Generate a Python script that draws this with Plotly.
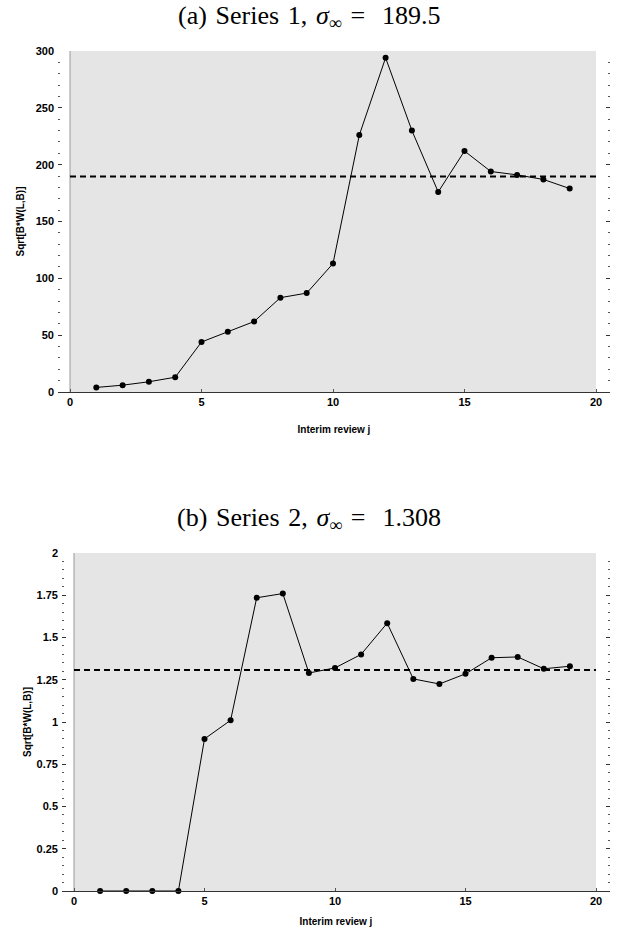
import plotly.graph_objects as go

# ---- data ----
review_j = list(range(1, 20))
series1 = [4, 6, 9, 13, 44, 53, 62, 83, 87, 113, 226, 294, 230, 176, 212, 194, 191, 187, 179]
series2 = [0, 0, 0, 0, 0.90, 1.01, 1.735, 1.76, 1.29, 1.32, 1.40, 1.585, 1.255, 1.225, 1.285, 1.38, 1.385, 1.315, 1.33]
sigma1 = 189.5
sigma2 = 1.308
x_ticks = [0, 5, 10, 15, 20]
y1_ticks = [0, 50, 100, 150, 200, 250, 300]
y2_ticks = [0, 0.25, 0.5, 0.75, 1, 1.25, 1.5, 1.75, 2]
y2_ticklabels = ["0", "0.25", "0.5", "0.75", "1", "1.25", "1.5", "1.75", "2"]
SP = " \u200a"
titles = [f"(a){SP}Series{SP}1,{SP}<i>σ</i><sub>∞</sub>{SP}= \u2009\u2009189.5",
          f"(b){SP}Series{SP}2,{SP}<i>σ</i><sub>∞</sub>{SP}= \u2009\u20091.308"]
ylabel = "Sqrt[B*W(L,B)]"
xlabel = "Interim review j"

W, H = 618, 933
GREY = "#e5e5e5"
SANS = "Liberation Sans, Arial, sans-serif"
SERIF = "Liberation Serif, Times New Roman, serif"

fig = go.Figure()

def add_panel(xa, ya, y, sigma, ymax):
    xref = "x" if xa == "" else "x" + xa
    yref = "y" if ya == "" else "y" + ya
    fig.add_shape(type="rect", x0=0, x1=20, y0=0, y1=ymax, xref=xref, yref=yref,
                  fillcolor=GREY, line=dict(width=0), layer="below")
    fig.add_shape(type="line", x0=0, x1=0, y0=0, y1=ymax, xref=xref, yref=yref,
                  line=dict(color="#9a9a9a", width=1), layer="below")
    fig.add_trace(go.Scatter(x=[0, 20], y=[sigma, sigma], mode="lines",
                             line=dict(color="black", width=2, dash="6px,4px"),
                             xaxis=xref, yaxis=yref, showlegend=False, hoverinfo="skip"))
    fig.add_trace(go.Scatter(x=review_j, y=y, mode="lines+markers",
                             line=dict(color="black", width=1),
                             marker=dict(color="black", size=6),
                             xaxis=xref, yaxis=yref, showlegend=False, cliponaxis=False))

add_panel("", "", series1, sigma1, 300)
add_panel("2", "2", series2, sigma2, 2)

tickfont = dict(family=SANS, size=11, color="black", weight="bold")
titlefont = dict(family=SANS, size=10, color="black", weight="bold")

def xaxis_cfg(domain, rng, standoff):
    return dict(domain=domain, range=rng, tickvals=x_ticks, ticks="inside", ticklen=3,
                tickcolor="#555", showline=True, linecolor="#333", linewidth=1,
                showgrid=False, zeroline=False, tickfont=tickfont, automargin=False,
                title=dict(text=xlabel, font=titlefont, standoff=standoff))

def yaxis_cfg(domain, rng, tickvals, ticktext, minor_dtick, anchor, standoff):
    return dict(domain=domain, range=rng, tickvals=tickvals, ticktext=ticktext,
                ticks="inside", ticklen=4, tickcolor="#333", tickwidth=1,
                mirror="ticks", showline=False, showgrid=False, zeroline=False,
                tickfont=tickfont, ticklabelstandoff=3, anchor=anchor, automargin=False,
                minor=dict(dtick=minor_dtick, tick0=0, ticks="inside", ticklen=2,
                           tickcolor="#555", showgrid=False),
                title=dict(text=ylabel, font=titlefont, standoff=standoff))

# top panel: x 0 at 70px, 20 at 596px; plot area 58..610
s1 = (596 - 70) / 20
x1r = [(58 - 70) / s1, (610 - 70) / s1]
# bottom panel: x 0 at 74px, 20 at 596px; plot area 62..610
s2 = (596 - 74) / 20
x2r = [(62 - 74) / s2, (610 - 74) / s2]

fig.update_layout(
    width=W, height=H,
    margin=dict(l=0, r=0, t=0, b=0, autoexpand=False),
    paper_bgcolor="white", plot_bgcolor="white",
    xaxis=xaxis_cfg([58 / W, 610 / W], x1r, 18) | dict(anchor="y"),
    yaxis=yaxis_cfg([1 - 392 / H, 1 - 51 / H], [0, 300], y1_ticks, [str(v) for v in y1_ticks], 10, "x", 9),
    xaxis2=xaxis_cfg([62 / W, 610 / W], x2r, 11) | dict(anchor="y2"),
    yaxis2=yaxis_cfg([1 - 891 / H, 1 - 553 / H], [0, 2], y2_ticks, y2_ticklabels, 0.05, "x2", 3),
    annotations=[
        dict(text=titles[0], x=309 / W, y=1 - 17 / H, xref="paper", yref="paper",
             showarrow=False, font=dict(family=SERIF, size=26, color="black"),
             xanchor="center", yanchor="middle"),
        dict(text=titles[1], x=309 / W, y=1 - 519 / H, xref="paper", yref="paper",
             showarrow=False, font=dict(family=SERIF, size=26, color="black"),
             xanchor="center", yanchor="middle"),
    ],
)

fig.write_html("out.html", config={"displayModeBar": False},
               post_script="document.body.style.margin='0';document.body.style.padding='0';")
